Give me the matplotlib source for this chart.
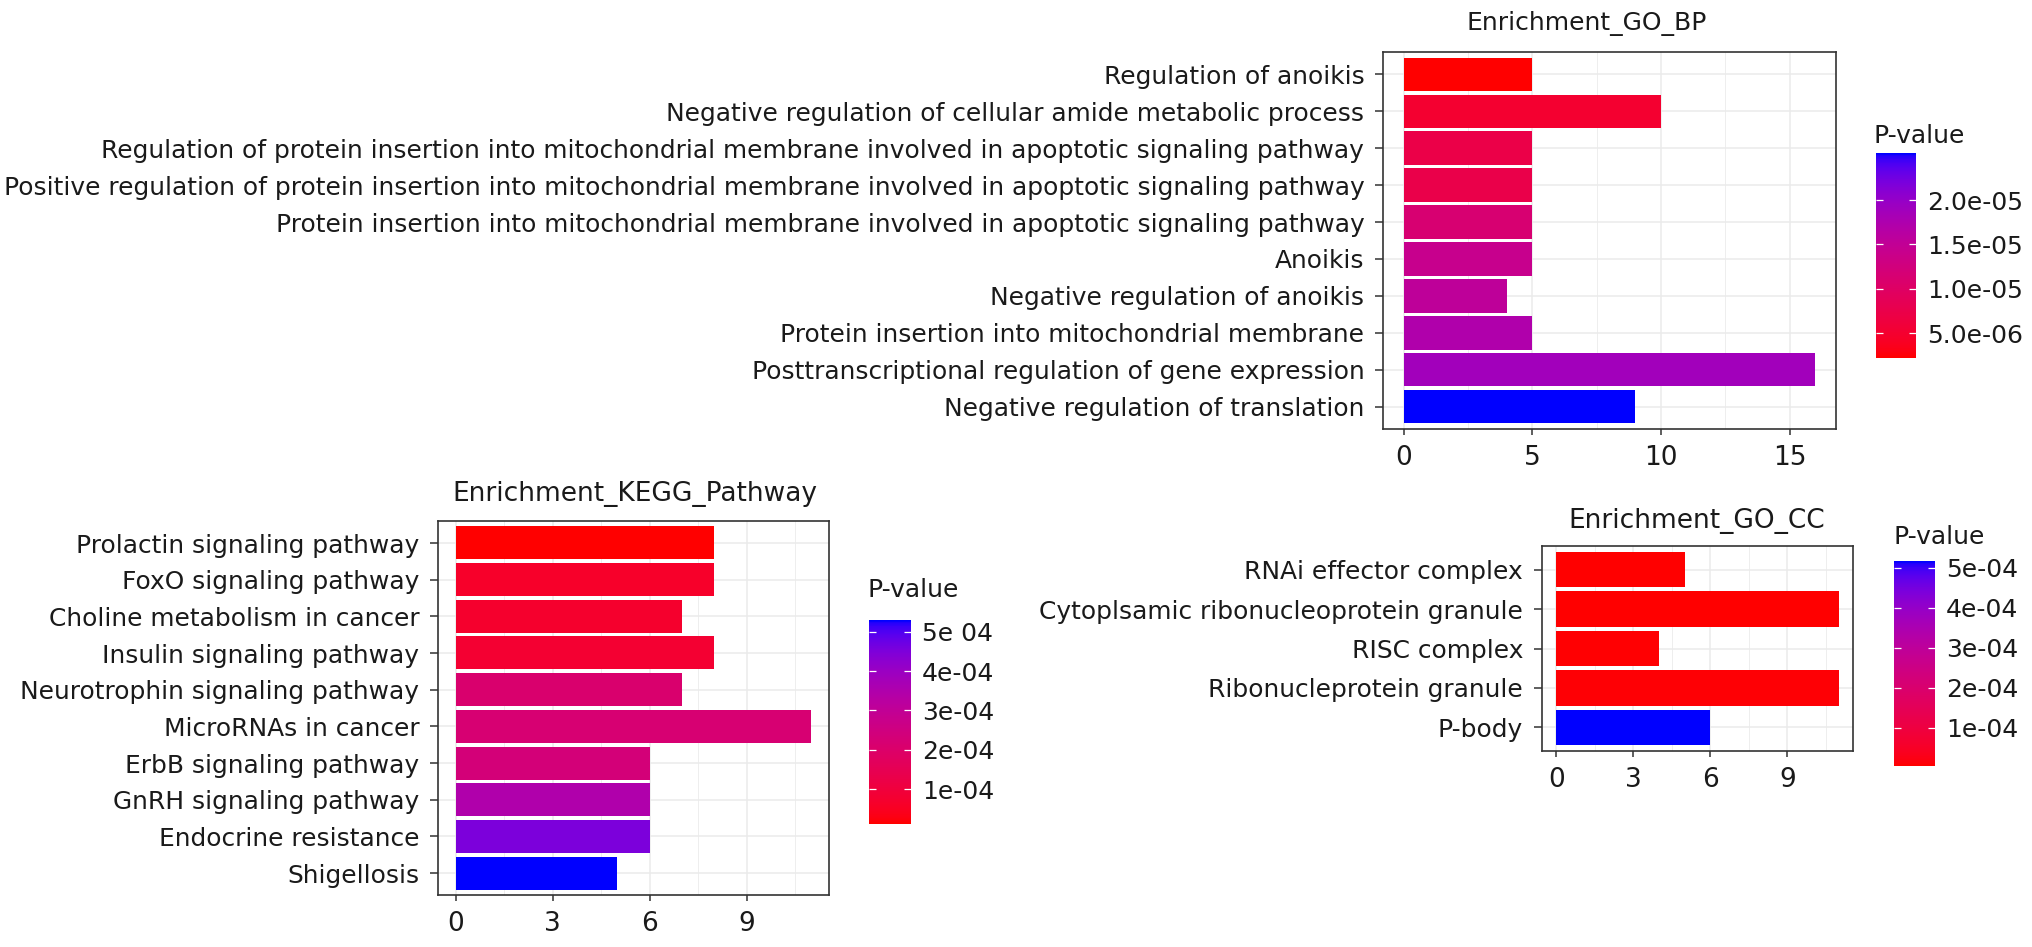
"""Three enrichment bar charts (GO BP, KEGG, GO CC) coloured by P-value."""

import numpy as np
import matplotlib

matplotlib.use("Agg")
import matplotlib.pyplot as plt
from matplotlib.cm import ScalarMappable
from matplotlib.colors import LinearSegmentedColormap, Normalize

# the source figure is stretched sideways, so the wider DejaVu face fits better
plt.rcParams["font.family"] = ["DejaVu Sans"]

# ── Data ─────────────────────────────────────────────────────────────────
BP_TERMS = [
    "Regulation of anoikis",
    "Negative regulation of cellular amide metabolic process",
    "Regulation of protein insertion into mitochondrial membrane involved in apoptotic signaling pathway",
    "Positive regulation of protein insertion into mitochondrial membrane involved in apoptotic signaling pathway",
    "Protein insertion into mitochondrial membrane involved in apoptotic signaling pathway",
    "Anoikis",
    "Negative regulation of anoikis",
    "Protein insertion into mitochondrial membrane",
    "Posttranscriptional regulation of gene expression",
    "Negative regulation of translation",
]
BP_COUNTS = [5, 10, 5, 5, 5, 5, 4, 5, 16, 9]
BP_PVALUES = [2.2e-6, 5.0e-6, 7.3e-6, 7.5e-6, 1.14e-5, 1.42e-5, 1.54e-5, 1.72e-5, 1.88e-5, 2.53e-5]
BP_CBAR_TICKS = [5e-6, 1e-5, 1.5e-5, 2e-5]
BP_CBAR_LABELS = ["5.0e-06", "1.0e-05", "1.5e-05", "2.0e-05"]

KEGG_TERMS = [
    "Prolactin signaling pathway",
    "FoxO signaling pathway",
    "Choline metabolism in cancer",
    "Insulin signaling pathway",
    "Neurotrophin signaling pathway",
    "MicroRNAs in cancer",
    "ErbB signaling pathway",
    "GnRH signaling pathway",
    "Endocrine resistance",
    "Shigellosis",
]
KEGG_COUNTS = [8, 8, 7, 8, 7, 11, 6, 6, 6, 5]
KEGG_PVALUES = [1.1e-5, 6.3e-5, 6.8e-5, 7.8e-5, 2.08e-4, 2.19e-4, 2.34e-4, 3.48e-4, 4.52e-4, 5.3e-4]
KEGG_CBAR_TICKS = [1e-4, 2e-4, 3e-4, 4e-4, 5e-4]
KEGG_CBAR_LABELS = ["1e-04", "2e-04", "3e-04", "4e-04", "5e 04"]

CC_TERMS = [
    "RNAi effector complex",
    "Cytoplsamic ribonucleoprotein granule",
    "RISC complex",
    "Ribonucleprotein granule",
    "P-body",
]
CC_COUNTS = [5, 11, 4, 11, 6]
CC_PVALUES = [5e-6, 6e-6, 8e-6, 1.0e-5, 5.17e-4]
CC_CBAR_TICKS = [1e-4, 2e-4, 3e-4, 4e-4, 5e-4]
CC_CBAR_LABELS = ["1e-04", "2e-04", "3e-04", "4e-04", "5e-04"]

# ── Layout (pixels in a 2032 x 947 canvas) ───────────────────────────────
W, H = 2032, 947
TEXT = "#1a1a1a"
GRID = "#EBEBEB"
SPINE = "#333333"


def box(left, top, right, bottom):
    return [left / W, 1 - bottom / H, (right - left) / W, (bottom - top) / H]


# ── Red -> blue gradient interpolated in CIELAB (like ggplot) ───────────
WHITE = np.array([0.95047, 1.0, 1.08883])


def srgb_to_lab(rgb):
    rgb = np.asarray(rgb, float)
    lin = np.where(rgb <= 0.04045, rgb / 12.92, ((rgb + 0.055) / 1.055) ** 2.4)
    m = np.array([[0.4124, 0.3576, 0.1805],
                  [0.2126, 0.7152, 0.0722],
                  [0.0193, 0.1192, 0.9505]])
    xyz = m @ lin / WHITE
    d = 6 / 29
    f = np.where(xyz > d ** 3, np.cbrt(xyz), xyz / (3 * d ** 2) + 4 / 29)
    return np.array([116 * f[1] - 16, 500 * (f[0] - f[1]), 200 * (f[1] - f[2])])


def lab_to_srgb(lab):
    L, a, b = lab
    fy = (L + 16) / 116
    f = np.array([fy + a / 500, fy, fy - b / 200])
    d = 6 / 29
    xyz = np.where(f > d, f ** 3, 3 * d ** 2 * (f - 4 / 29)) * WHITE
    minv = np.array([[3.2406, -1.5372, -0.4986],
                     [-0.9689, 1.8758, 0.0415],
                     [0.0557, -0.2040, 1.0570]])
    lin = np.clip(minv @ xyz, 0, 1)
    srgb = np.where(lin <= 0.0031308, 12.92 * lin, 1.055 * lin ** (1 / 2.4) - 0.055)
    return np.clip(srgb, 0, 1)


lab_lo = srgb_to_lab([1, 0, 0])
lab_hi = srgb_to_lab([0, 0, 1])
CMAP = LinearSegmentedColormap.from_list(
    "red_blue_lab",
    [lab_to_srgb(lab_lo + t * (lab_hi - lab_lo)) for t in np.linspace(0, 1, 64)],
)


def draw_panel(fig, ax_px, cbar_px, terms, counts, pvals, xmax, xstep,
               title, title_px, title_size, legend_px, cbar_ticks, cbar_labels):
    ax = fig.add_axes(box(*ax_px))
    n = len(terms)
    ypos = np.arange(n)[::-1]
    norm = Normalize(vmin=min(pvals), vmax=max(pvals))
    ax.barh(ypos, counts, height=0.9, color=CMAP(norm(np.array(pvals))),
            linewidth=0, zorder=2)

    pad = 0.05 * xmax
    ax.set_xlim(-pad, xmax + pad)
    ax.set_ylim(-0.6, n - 0.4)
    ax.set_xticks(np.arange(0, xmax + 0.01, xstep))
    ax.set_xticks(np.arange(xstep / 2, xmax + pad, xstep), minor=True)
    ax.set_yticks(ypos)
    ax.set_yticklabels(terms)

    ax.grid(which="major", color=GRID, linewidth=1.1, zorder=0)
    ax.grid(which="minor", axis="x", color=GRID, linewidth=0.6, zorder=0)
    ax.set_axisbelow(True)
    for sp in ax.spines.values():
        sp.set_color(SPINE)
        sp.set_linewidth(1.2)

    ax.tick_params(axis="y", which="major", length=5.5, width=1.1, color=SPINE,
                   pad=8, labelsize=17.9, labelcolor=TEXT)
    ax.tick_params(axis="x", which="major", length=4.5, width=1.1, color=SPINE,
                   pad=7, labelsize=19, labelcolor=TEXT)
    ax.tick_params(which="minor", length=0)

    fig.text(title_px[0] / W, 1 - title_px[1] / H, title, ha="center",
             va="center", fontsize=title_size, color=TEXT)
    fig.text(legend_px[0] / W, 1 - legend_px[1] / H, "P-value", ha="left",
             va="center", fontsize=18, color=TEXT)

    cax = fig.add_axes(box(*cbar_px))
    cbar = fig.colorbar(ScalarMappable(norm=norm, cmap=CMAP), cax=cax)
    cbar.outline.set_visible(False)
    cbar.set_ticks(cbar_ticks)
    cbar.set_ticklabels(cbar_labels)
    cbar.minorticks_off()
    cax.tick_params(which="major", direction="in", left=True, right=True,
                    color="white", length=5, width=0.9, labelsize=18,
                    labelcolor=TEXT, pad=8)
    return ax


def main():
    fig = plt.figure(figsize=(W / 100, H / 100), dpi=100, facecolor="white")

    draw_panel(fig, (1383, 52, 1836, 429), (1876, 153, 1916, 358),
               BP_TERMS, BP_COUNTS, BP_PVALUES, 16, 5,
               "Enrichment_GO_BP", (1587, 23), 18, (1874, 136),
               BP_CBAR_TICKS, BP_CBAR_LABELS)

    draw_panel(fig, (438, 521, 829, 895), (869, 620, 911, 824),
               KEGG_TERMS, KEGG_COUNTS, KEGG_PVALUES, 11, 3,
               "Enrichment_KEGG_Pathway", (635, 494), 19, (867, 590),
               KEGG_CBAR_TICKS, KEGG_CBAR_LABELS)

    draw_panel(fig, (1542, 546, 1853, 751), (1894, 561, 1935, 766),
               CC_TERMS, CC_COUNTS, CC_PVALUES, 11, 3,
               "Enrichment_GO_CC", (1697, 521), 19, (1893, 537),
               CC_CBAR_TICKS, CC_CBAR_LABELS)

    fig.savefig("out.png", dpi=100, facecolor="white")
    plt.close(fig)


if __name__ == "__main__":
    main()
